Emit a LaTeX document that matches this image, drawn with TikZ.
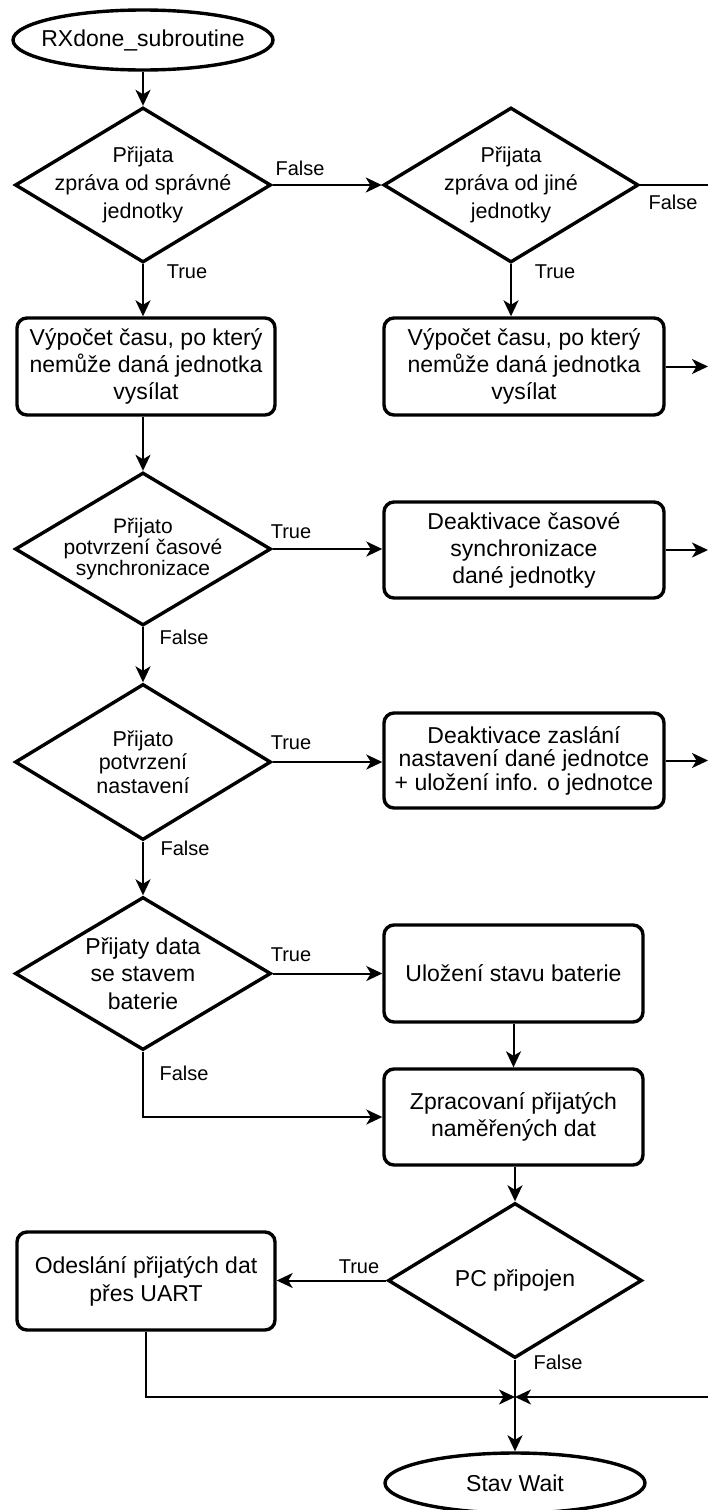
\documentclass[tikz,border=0pt]{standalone}
\usepackage{fontspec}
\setmainfont{Liberation Sans}
\usetikzlibrary{shapes.geometric,arrows.meta}
\begin{document}
\begin{tikzpicture}[x=1pt,y=-1pt,
  shp/.style={draw=black,line width=3.4pt,fill=white},
  proc/.style={shp,rectangle,rounded corners=10pt,minimum width=280pt,minimum height=97pt,inner sep=0pt},
  dia/.style={shp,diamond,minimum width=256pt,minimum height=155pt,inner sep=0pt},
  term/.style={shp,ellipse,minimum width=260pt,minimum height=60pt,inner sep=0pt},
  txt/.style={align=center,inner sep=0pt,font=\fontsize{23}{27}\selectfont},
  dtxt/.style={align=center,inner sep=0pt,font=\fontsize{21.5}{28}\selectfont},
  lbl/.style={inner sep=0pt,font=\fontsize{20}{24}\selectfont},
  conn/.style={line width=2pt,-{Stealth[length=16pt,width=15pt,inset=4.5pt]}},
  wire/.style={line width=2pt},
]
\useasboundingbox (0,0) rectangle (708,1510);

% nodes
\node[term] (start) at (143,40) {};
\node[txt] (startt) at (start) {RXdone\_subroutine};

\node[dia] (d1) at (143,185) {};
\node[dtxt] (d1t) at (d1) {Přijata\\zpráva od správné\\jednotky};

\node[dia,minimum width=255pt] (d2) at (511,185) {};
\node[dtxt] (d2t) at (d2) {Přijata\\zpráva od jiné\\jednotky};

\node[proc,minimum width=258pt] (b1) at (146,366.5) {};
\node[txt] (b1t) at (b1) {Výpočet času, po který\\nemůže daná jednotka\\vysílat};

\node[proc] (b2) at (524,366.5) {};
\node[txt] (b2t) at (b2) {Výpočet času, po který\\nemůže daná jednotka\\vysílat};

\node[dia,minimum height=153pt] (d3) at (143,549) {};
\node[dtxt,font=\fontsize{21}{18}\selectfont] (d3t) at (d3) {Přijato\\potvrzení časové\\synchronizace};

\node[proc,minimum height=96pt] (b3) at (524,550) {};
\node[txt] (b3t) at (b3) {Deaktivace časové\\synchronizace\\dané jednotky};

\node[dia,minimum height=156pt] (d4) at (143,762) {};
\node[dtxt,font=\fontsize{21.5}{23.5}\selectfont] (d4t) at (d4) {Přijato\\potvrzení\\nastavení};

\node[proc,minimum height=95pt] (b4) at (524,760.5) {};
\node[txt,font=\fontsize{23}{23.5}\selectfont] (b4t) at (b4) {Deaktivace zaslání\\nastavení dané jednotce\\+ uložení info. o jednotce};

\node[dia,minimum height=153pt] (d5) at (143,973.5) {};
\node[txt,font=\fontsize{23}{27.5}\selectfont] (d5t) at (d5) {Přijaty data\\se stavem\\baterie};

\node[proc,minimum width=259pt] (b5) at (513.5,973.5) {};
\node[txt] (b5t) at (b5) {Uložení stavu baterie};

\node[proc,minimum width=259pt,minimum height=96pt] (b6) at (513.5,1117) {};
\node[txt] (b6t) at (b6) {Zpracovaní přijatých\\naměřených dat};

\node[dia,minimum width=254pt] (d7) at (515,1280.5) {};
\node[txt] (d7t) at (d7) {PC připojen};

\node[proc,minimum width=258pt,minimum height=98pt] (b7) at (146,1281) {};
\node[txt,font=\fontsize{23}{28}\selectfont] (b7t) at (b7) {Odeslání přijatých dat\\přes UART};

\node[term] (end) at (515,1483) {};
\node[txt] (endt) at (end) {Stav Wait};

% free ends
\coordinate (e1) at (708,185);
\coordinate (e2) at (708,366.5);
\coordinate (e3) at (708,550);
\coordinate (e4) at (708,760.5);
\coordinate (j) at (515,1397);
\coordinate (ej) at (708,1397);

% connectors
\draw[conn] (start.south) -- (d1.north);
\draw[conn] (d1.east) -- (d2.west);
\draw[wire] (d2.east) -- (e1);
\draw[conn] (d1.south) -- (d1.south |- b1.north);
\draw[conn] (d2.south) -- (d2.south |- b2.north);
\draw[conn] (b2.east) -- (e2);
\draw[conn] (b1.south -| d3.north) -- (d3.north);
\draw[conn] (d3.east) -- (d3.east -| b3.west);
\draw[conn] (b3.east) -- (e3);
\draw[conn] (d3.south) -- (d4.north);
\draw[conn] (d4.east) -- (d4.east -| b4.west);
\draw[conn] (b4.east) -- (e4);
\draw[conn] (d4.south) -- (d5.north);
\draw[conn] (d5.east) -- (d5.east -| b5.west);
\draw[conn] (b5.south) -- (b6.north);
\draw[conn] (d5.south) |- (b6.west);
\draw[conn] (d7.north |- b6.south) -- (d7.north);
\draw[conn] (d7.west) -- (d7.west -| b7.east);
\draw[conn] (b7.south) |- (j);
\draw[conn] (ej) -- (j);
\draw[conn] (d7.south) -- (end.north);

% labels
\node[lbl] (l1) at (300,168) {False};
\node[lbl] (l2) at (673,202) {False};
\node[lbl] (l3) at (187,272) {True};
\node[lbl] (l4) at (555,272) {True};
\node[lbl] (l5) at (291,532) {True};
\node[lbl] (l6) at (184,637) {False};
\node[lbl] (l7) at (291,743) {True};
\node[lbl] (l8) at (185,848) {False};
\node[lbl] (l9) at (291,955) {True};
\node[lbl] (l10) at (184,1073) {False};
\node[lbl] (l11) at (359,1267) {True};
\node[lbl] (l12) at (558,1362) {False};
\end{tikzpicture}
\end{document}
